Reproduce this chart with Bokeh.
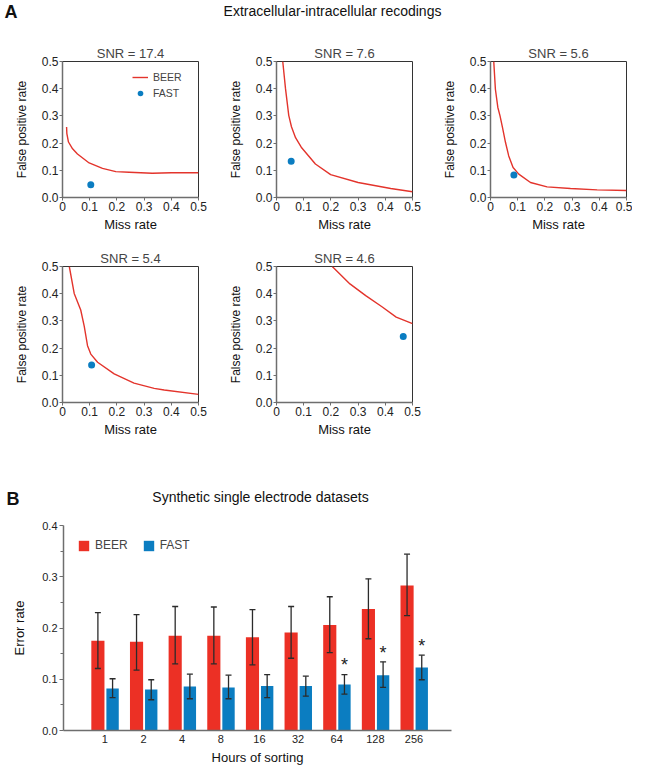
from bokeh.plotting import figure
from bokeh.layouts import column, row
from bokeh.models import (Range1d, FixedTicker, Legend, LegendItem, Whisker, TeeHead,
                          ColumnDataSource, PrintfTickFormatter, Label)
from bokeh.core.properties import value
from bokeh.embed import file_html
from bokeh.resources import INLINE

FONT = "Liberation Sans"
RED = "#ec3025"
BLUE = "#0b7dc1"
LINE_RED = "#e3342c"

# ---------------- Panel A data ----------------
snr_titles = ["SNR = 17.4", "SNR = 7.6", "SNR = 5.6", "SNR = 5.4", "SNR = 4.6"]

beer_miss_1 = [0.015, 0.016, 0.022, 0.037, 0.055, 0.098, 0.147, 0.196, 0.245, 0.33, 0.40, 0.5]
beer_fp_1 = [0.259, 0.235, 0.204, 0.179, 0.160, 0.127, 0.107, 0.095, 0.093, 0.089, 0.091, 0.091]

beer_miss_2 = [0.023, 0.033, 0.045, 0.055, 0.07, 0.091, 0.143, 0.199, 0.3, 0.42, 0.5]
beer_fp_2 = [0.5, 0.401, 0.302, 0.26, 0.22, 0.185, 0.123, 0.084, 0.055, 0.033, 0.021]

beer_miss_3 = [0.012, 0.018, 0.027, 0.035, 0.044, 0.055, 0.067, 0.083, 0.104, 0.147, 0.208, 0.294, 0.392, 0.5]
beer_fp_3 = [0.5, 0.398, 0.331, 0.3, 0.258, 0.203, 0.153, 0.11, 0.086, 0.055, 0.039, 0.033, 0.028, 0.026]

beer_miss_4 = [0.025, 0.043, 0.067, 0.08, 0.092, 0.104, 0.129, 0.19, 0.263, 0.337, 0.374, 0.5]
beer_fp_4 = [0.5, 0.401, 0.34, 0.28, 0.209, 0.178, 0.148, 0.105, 0.071, 0.052, 0.046, 0.03]

beer_miss_5 = [0.205, 0.27, 0.328, 0.389, 0.44, 0.5]
beer_fp_5 = [0.5, 0.436, 0.393, 0.351, 0.314, 0.29]

fast_miss = [0.104, 0.054, 0.086, 0.107, 0.466]
fast_fp = [0.047, 0.133, 0.083, 0.138, 0.243]

roc_ticks = [0.0, 0.1, 0.2, 0.3, 0.4, 0.5]

# ---------------- Panel B data ----------------
hours = ["1", "2", "4", "8", "16", "32", "64", "128", "256"]
beer_err = [0.175, 0.173, 0.185, 0.185, 0.182, 0.191, 0.206, 0.237, 0.283]
beer_hi = [0.230, 0.226, 0.242, 0.241, 0.236, 0.242, 0.261, 0.296, 0.344]
beer_lo = [0.121, 0.118, 0.130, 0.130, 0.128, 0.141, 0.152, 0.179, 0.224]
fast_err = [0.082, 0.080, 0.086, 0.084, 0.087, 0.087, 0.090, 0.108, 0.123]
fast_hi = [0.101, 0.099, 0.110, 0.108, 0.109, 0.106, 0.109, 0.134, 0.147]
fast_lo = [0.064, 0.060, 0.062, 0.062, 0.064, 0.067, 0.071, 0.084, 0.099]
significant = [False, False, False, False, False, False, True, True, True]
err_ticks = [0.0, 0.1, 0.2, 0.3, 0.4]
err_minor = [0.05, 0.15, 0.25, 0.35]

PAGE_W = 632


def style_axes(p, tick_size):
    for ax in (p.xaxis[0], p.yaxis[0]):
        ax.major_label_text_font = FONT
        ax.major_label_text_font_size = tick_size
        ax.major_label_text_color = "#222222"
        ax.axis_label_text_font = FONT
        ax.axis_label_text_font_style = "normal"
        ax.axis_label_text_color = "#111111"
        ax.axis_line_color = "#6e6e6e"
        ax.axis_line_width = 1.5
        ax.major_tick_line_color = "#6e6e6e"
        ax.minor_tick_line_color = "#6e6e6e"
    p.xgrid.visible = False
    p.ygrid.visible = False


def roc(idx, mx, fy, width, top, bottom, right, legend=False):
    p = figure(width=width, height=top + 136 + bottom,
               x_range=Range1d(0, 0.5), y_range=Range1d(0, 0.5),
               output_backend="svg", toolbar_location=None,
               min_border_left=62, min_border_right=right,
               min_border_top=top, min_border_bottom=bottom,
               title=snr_titles[idx])
    p.frame_align = False
    p.title.align = "center"
    p.title.text_font = FONT
    p.title.text_font_size = "13px"
    p.title.text_font_style = "normal"
    p.title.standoff = 1
    p.outline_line_color = "#333333"
    p.outline_line_width = 1
    style_axes(p, "12px")
    p.xaxis.ticker = FixedTicker(ticks=roc_ticks, minor_ticks=[])
    p.yaxis.ticker = FixedTicker(ticks=roc_ticks, minor_ticks=[])
    p.xaxis.formatter = PrintfTickFormatter(format="%.1f")
    p.yaxis.formatter = PrintfTickFormatter(format="%.1f")
    p.xaxis.major_label_overrides = {0: "0"}
    for ax in (p.xaxis[0], p.yaxis[0]):
        ax.major_tick_out = 3
        ax.major_tick_in = 0
        ax.major_label_standoff = 1
    p.xaxis.axis_label = "Miss rate"
    p.yaxis.axis_label = "False positive rate"
    p.xaxis.axis_label_text_font_size = "13px"
    p.yaxis.axis_label_text_font_size = "12px"
    p.xaxis.axis_label_standoff = 3
    p.yaxis.axis_label_standoff = 10
    r1 = p.line(mx, fy, line_color=LINE_RED, line_width=1.4)
    r2 = p.scatter([fast_miss[idx]], [fast_fp[idx]], size=7, color=BLUE, line_color=None)
    if legend:
        lg = Legend(items=[LegendItem(label="BEER", renderers=[r1]),
                           LegendItem(label="FAST", renderers=[r2])],
                    location=(70, 97), padding=0, margin=0, spacing=2,
                    glyph_width=16, glyph_height=14, label_height=14,
                    label_standoff=5, label_text_font=FONT, label_text_font_size="10.5px",
                    border_line_color=None, background_fill_alpha=0)
        p.add_layout(lg)
    return p


def header(h, texts):
    # full-width frame: data x == page pixel, data y == pixel from top
    p = figure(width=PAGE_W, height=h,
               x_range=Range1d(0, PAGE_W), y_range=Range1d(h, 0),
               output_backend="svg", toolbar_location=None,
               min_border_left=0, min_border_right=0,
               min_border_top=0, min_border_bottom=0,
               x_axis_location=None, y_axis_location=None)
    p.frame_align = False
    p.outline_line_color = None
    p.xgrid.visible = False
    p.ygrid.visible = False
    for (x, y, t, size, style, align) in texts:
        p.add_layout(Label(x=x, y=y, text=t, text_font=FONT, text_font_size=size,
                           text_font_style=style, text_align=align,
                           text_baseline="alphabetic", text_color="#111111"))
    return p


hA = header(28, [(4, 11.5, "A", "18px", "bold", "left"),
                 (332, 10.5, "Extracellular-intracellular recodings", "14px", "normal", "center")])

f1 = roc(0, beer_miss_1, beer_fp_1, 214, 33, 38, 16, legend=True)
f2 = roc(1, beer_miss_2, beer_fp_2, 214, 33, 38, 16)
f3 = roc(2, beer_miss_3, beer_fp_3, 204, 33, 38, 6)
f4 = roc(3, beer_miss_4, beer_fp_4, 214, 31, 40, 16)
f5 = roc(4, beer_miss_5, beer_fp_5, 214, 31, 40, 16)

hB = header(65, [(6, 56, "B", "18px", "bold", "left"),
                 (260, 54.5, "Synthetic single electrode datasets", "14px", "normal", "center")])

# ---------------- Panel B ----------------
xpos = list(range(len(hours)))
src = ColumnDataSource(dict(
    x=xpos,
    xb=[i - 0.18 for i in xpos],
    xf=[i + 0.2 for i in xpos],
    beer=beer_err, beer_hi=beer_hi, beer_lo=beer_lo,
    fast=fast_err, fast_hi=fast_hi, fast_lo=fast_lo,
))

pB = figure(width=PAGE_W, height=260, x_range=Range1d(-1.07, 8.97), y_range=Range1d(0, 0.4),
            output_backend="svg", toolbar_location=None,
            min_border_left=63, min_border_right=181, min_border_top=18,
            min_border_bottom=36)
pB.frame_align = False
pB.outline_line_color = None
style_axes(pB, "11px")
rb = pB.vbar(x="xb", top="beer", width=0.34, source=src, color=RED, line_color=None)
rf = pB.vbar(x="xf", top="fast", width=0.32, source=src, color=BLUE, line_color=None)
for base, up, lo in (("xb", "beer_hi", "beer_lo"), ("xf", "fast_hi", "fast_lo")):
    w = Whisker(base=base, upper=up, lower=lo, source=src, level="annotation",
                line_color="#2b2b2b", line_width=1.3,
                upper_head=TeeHead(size=6, line_color="#2b2b2b", line_width=1.3),
                lower_head=TeeHead(size=6, line_color="#2b2b2b", line_width=1.3))
    pB.add_layout(w)

star_x = [i + 0.2 for i, s in zip(xpos, significant) if s]
star_y = [h + 0.018 for h, s in zip(fast_hi, significant) if s]
pB.text(x=star_x, y=star_y, text=["*"] * len(star_x), text_font=value(FONT),
        text_font_size="18px", text_align="center", text_baseline="alphabetic",
        text_color="#222222")

pB.xaxis.ticker = FixedTicker(ticks=xpos, minor_ticks=[])
pB.xaxis.major_label_overrides = {i: h for i, h in zip(xpos, hours)}
pB.xaxis.major_tick_out = 0
pB.xaxis.major_tick_in = 0
pB.xaxis.major_label_standoff = 4
pB.xaxis.axis_label = "Hours of sorting"
pB.xaxis.axis_label_standoff = 4
pB.xaxis.axis_label_text_font_size = "13px"
pB.yaxis.ticker = FixedTicker(ticks=err_ticks, minor_ticks=err_minor)
pB.yaxis.formatter = PrintfTickFormatter(format="%.1f")
pB.yaxis.major_tick_out = 4
pB.yaxis.major_tick_in = 0
pB.yaxis.minor_tick_out = 3
pB.yaxis.minor_tick_in = 0
pB.yaxis.major_label_standoff = 2
pB.yaxis.axis_label = "Error rate"
pB.yaxis.axis_label_standoff = 12
pB.yaxis.axis_label_text_font_size = "13px"

lgB = Legend(items=[LegendItem(label="BEER", renderers=[rb]),
                    LegendItem(label="FAST", renderers=[rf])],
             orientation="horizontal", location=(14, 178), padding=0, margin=0,
             spacing=14, glyph_width=13, glyph_height=13, label_height=13,
             label_standoff=5, label_text_font=FONT, label_text_font_size="12px",
             border_line_color=None, background_fill_alpha=0)
pB.add_layout(lgB)

layout = column(hA, row(f1, f2, f3), row(f4, f5), hB, pB)
open("out.html", "w").write(file_html(layout, INLINE))
